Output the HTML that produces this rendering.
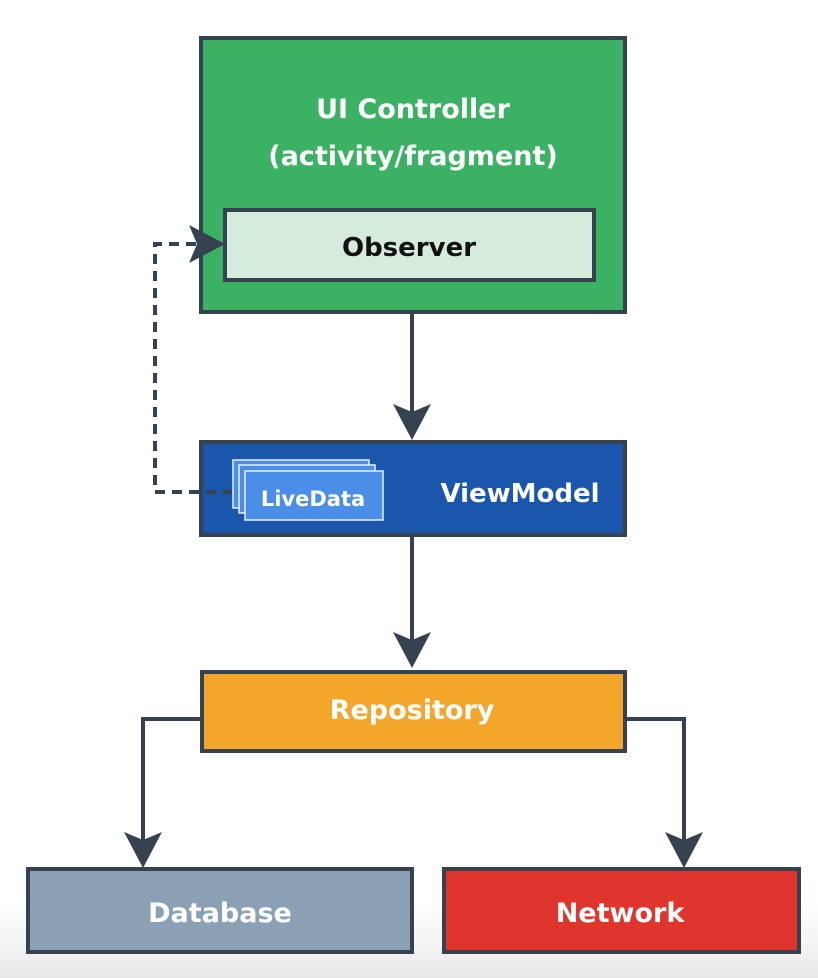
<!DOCTYPE html>
<html><head><style>
body{margin:0;width:818px;height:978px;overflow:hidden;background:linear-gradient(#fff 0,#fff 900px,#f2f2f2 950px,#e9e9e9 978px);font-family:"DejaVu Sans","Liberation Sans",sans-serif;}
</style></head><body>
<svg width="818" height="978" xmlns="http://www.w3.org/2000/svg" style="position:absolute;left:0;top:0">
<g stroke="#36424f" stroke-width="4" fill="none">
<rect x="201" y="38" width="424" height="274" fill="#3bb263"/>
<rect x="225" y="210" width="369" height="70" fill="#d5ebdc"/>
<rect x="201" y="442" width="424" height="93" fill="#1a56ab"/>
<rect x="202" y="672" width="423" height="79" fill="#f4a62a"/>
<rect x="28" y="869" width="384" height="83" fill="#8aa0b5"/>
<rect x="444" y="869" width="355" height="83" fill="#e0352c"/>
<line x1="412" y1="313" x2="412" y2="420"/>
<line x1="412" y1="536" x2="412" y2="650"/>
<polyline points="200,719 143,719 143,850"/>
<polyline points="626,719 684,719 684,850"/>
<polyline points="233,492 155,492 155,244 200,244" stroke-dasharray="10,7"/>
</g>
<g fill="#36424f">
<path d="M393,404 L412,440 L431,404 L412,412 Z"/>
<path d="M393,632 L412,668 L431,632 L412,640 Z"/>
<path d="M124,832 L143,868 L162,832 L143,840 Z"/>
<path d="M665,832 L684,868 L703,832 L684,840 Z"/>
<path d="M189,225 L225,244 L189,263 L197,244 Z"/>
</g>
<g stroke="#e8f0fc" stroke-width="1.5">
<rect x="233" y="460" width="136" height="48" fill="#4a8ee8"/>
<rect x="239" y="465" width="136" height="48" fill="#4a8ee8"/>
<rect x="245" y="471" width="138" height="49" fill="#4a8ee8"/>
</g>
<g font-family="DejaVu Sans, Liberation Sans, sans-serif" text-anchor="middle" font-weight="bold">
<text x="413" y="118" font-size="27" fill="#fff">UI Controller</text>
<text x="413" y="165" font-size="27" fill="#fff">(activity/fragment)</text>
<text x="409" y="256" font-size="26" fill="#111">Observer</text>
<text x="313" y="506" font-size="21" fill="#fff">LiveData</text>
<text x="520" y="502" font-size="26" fill="#fff">ViewModel</text>
<text x="412" y="719" font-size="27" fill="#fff">Repository</text>
<text x="220" y="922" font-size="27" fill="#fff">Database</text>
<text x="620" y="922" font-size="27" fill="#fff">Network</text>
</g>
</svg>
</body></html>
